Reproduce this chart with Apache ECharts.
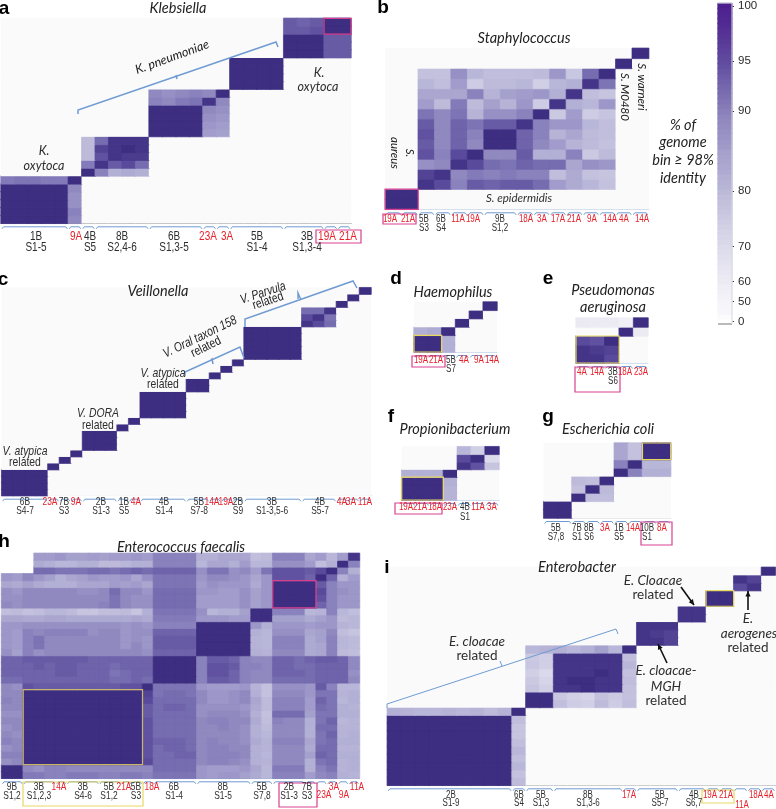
<!DOCTYPE html>
<html><head><meta charset="utf-8">
<style>html,body{margin:0;padding:0;background:#fff}#c{width:776px;height:809px;filter:blur(0.4px)}</style>
<script src="https://cdn.jsdelivr.net/npm/echarts@6/dist/echarts.min.js"></script>
</head><body><div id="c"></div>
<script>
// ---------- DATA: each row is [first column, values...], bottom row first; cells not listed read as 0 ----------
const aRows=[[0,99,99,99,99,99,87],[0,99,99,99,99,99,88],[0,99,99,99,99,99,86],[0,99,99,99,99,99,86],[0,99,99,99,99,99,87],
[0,89,90,90,89,89,99],[6,99,88,80,81,80],[6,89,98,93,95,91],[6,77,94,98,97,97],[6,77,96,98,99,98],[6,77,91,98,98,98],
[11,99,99,99,99,84,83],[11,99,99,99,99,85,84],[11,99,99,99,99,86,85],[11,99,99,99,99,87,86],
[11,88,87,89,90,98,87],[11,87,86,87,88,87,99],
[17,99,99,99,99],[17,99,99,99,99],[17,99,99,99,99],[17,99,99,99,99],
[21,99,99,99,93,93],[21,99,99,99,93,93],[21,99,99,99,93,93],[21,93,93,94,99,99],[21,93,92,93,99,99]];
const aSizes=[5,1,1,4,4,1,1,4,3,1,1];
const aNames=['1B','9A','4B','8B','6B','23A','3A','5B','3B','19A','21A'];
const aSubs=['S1-5','','S5','S2,4-6','S1,3-5','','','S1-4','S1,3-4','',''];

const bRows=[[0,99,99],[0,99,99],
[2,98,95,88,93,92,93,93,91,84,81,78,75],
[2,96,98,87,89,88,89,88,88,76,81,75,74],
[2,86,87,98,95,91,90,92,91,91,82,86,85],
[2,94,88,95,99,87,87,93,80,80,88,72,77],
[2,93,87,92,87,99,99,92,87,84,79,77,75],
[2,94,87,92,88,99,99,92,88,79,82,77,76],
[2,93,87,92,90,93,93,98,88,85,85,78,76],
[2,90,87,90,79,86,86,88,99,72,84,71,74],
[2,84,77,89,77,83,79,85,71,98,80,78,85],
[2,82,82,82,88,79,83,84,85,80,98,76,74],
[2,78,76,84,71,77,77,78,70,78,80,98,90],
[2,75,75,86,78,76,76,76,77,85,73,91,99],
[14,99],[15,99]];
const bSizes=[1,1,1,1,1,1,2,1,1,1,1,1,1,1,1];
const bNames=['19A','21A','5B','6B','11A','19A','9B','18A','3A','17A','21A','9A','14A','4A','14A'];
const bSubs=['','','S3','S4','','','S1,2','','','','','','','',''];

const cRows=[[0,99,99,99,99],[0,99,99,99,99],[0,99,99,99,99],[0,99,99,99,99],[4,99],[5,99],[6,99],
[7,99,99,99],[7,99,99,99],[7,99,99,99],[10,99],[11,99],
[12,99,99,99,99],[12,99,99,99,99],[12,99,99,99,99],[12,99,99,99,99],[16,99,99],[16,99,99],[18,99],[19,99],[20,99],
[21,99,99,99,99,99],[21,99,99,99,99,99],[21,99,99,99,99,99],[21,99,99,99,99,99],[21,99,99,99,99,99],
[26,98,95,91],[26,95,98,90],[26,91,91,98],[29,99],[30,99],[31,99]];
const cSizes=[4,1,1,1,3,1,1,4,2,1,1,1,5,3,1,1,1];
const cNames=['6B','23A','7B','9A','2B','1B','4A','4B','5B','14A','19A','2B','3B','4B','4A','3A','11A'];
const cSubs=['S4-7','','S3','','S1-3','S5','','S1-4','S7-8','','','S9','S1-3,5-6','S5-7','','',''];

const dRows=[[0,99,99,80],[0,99,99,80],[0,80,81,99],[3,99],[4,99],[5,99]];
const dSizes=[1,1,1,1,1,1];
const dNames=['19A','21A','5B','4A','9A','14A'];
const dSubs=['','','S7','','',''];

const eRows=[[0,98,98,95],[0,98,97,96],[0,95,94,99],[3,99,55],[0,56,55,55,52,99]];
const eSizes=[1,1,1,1,1];
const eNames=['4A','14A','3B','18A','23A'];
const eSubs=['','','S6','',''];

const fRows=[[0,99,99,99,79],[0,99,99,99,79],[0,99,99,99,80],[0,80,80,80,99],[4,98,94,74],[4,95,99,65],[4,78,70,99]];
const fSizes=[1,1,1,1,1,1,1];
const fNames=['19A','21A','18A','23A','4B','11A','3A'];
const fSubs=['','','','','S1','',''];

const gRows=[[0,99,99],[0,99,99],[2,99,76,76],[2,75,99,77],[2,77,76,99],[5,99,88,80,80],[5,88,99,78,78],[5,82,75,99,99],[5,82,75,99,99]];
const gSizes=[2,1,1,1,1,1,1,1];
const gNames=['5B','7B','8B','3A','1B','14A','10B','8A'];
const gSubs=['S7,8','S1','S6','','S5','','S1',''];

const hRows=[
[0,99,99,89,89,88,88,89,89,89,88,88,89,89,88,90,90,90,90,85,84,85,85,83,81,78,88,88,88,84,87,88,80,79],
[0,99,99,87,86,88,88,87,87,87,87,87,87,87,87,91,91,91,91,85,84,84,84,85,82,78,89,89,89,80,88,90,79,80],
[0,86,87,99,99,99,99,99,99,99,99,99,99,99,95,91,91,91,91,87,88,88,87,86,80,79,87,87,87,80,90,91,79,80],
[0,88,88,99,99,99,99,99,99,99,99,99,99,99,94,91,91,92,92,87,88,88,88,87,80,78,87,87,87,83,92,91,80,80],
[0,86,87,99,99,99,99,99,99,99,99,99,99,99,94,91,92,92,91,87,88,88,87,87,80,79,87,87,87,81,91,91,79,79],
[0,88,87,99,99,99,99,99,99,99,99,99,99,99,94,92,92,92,91,87,88,87,87,86,81,79,88,88,88,82,90,91,80,80],
[0,87,86,99,99,99,99,99,99,99,99,99,99,99,94,91,91,91,91,87,87,87,87,86,80,78,87,87,87,80,90,92,79,80],
[0,86,87,99,99,99,99,99,99,99,99,99,99,99,94,91,91,91,91,87,87,88,87,86,80,77,87,87,87,80,91,91,79,79],
[0,87,87,99,99,99,99,99,99,99,99,99,99,99,94,91,91,91,91,87,88,88,87,87,81,76,88,87,87,80,90,92,78,79],
[0,86,86,99,99,99,99,99,99,99,99,99,99,99,93,91,91,91,91,86,87,87,87,86,80,75,91,91,91,83,90,90,80,80],
[0,87,87,99,99,99,99,99,99,99,99,99,99,99,93,91,92,92,91,86,86,86,86,85,81,77,88,88,88,84,91,90,80,79],
[0,88,87,99,99,99,99,99,99,99,99,99,99,99,95,91,91,91,91,87,85,85,86,87,82,77,88,88,88,84,92,90,78,80],
[0,87,87,99,99,99,99,99,99,99,99,99,99,99,96,90,91,91,90,87,85,85,86,87,80,75,87,87,87,85,90,90,79,80],
[0,87,86,94,93,93,93,93,93,93,93,93,94,94,99,90,90,90,90,85,84,84,84,85,79,75,86,86,86,85,93,88,78,78],
[0,91,91,92,92,92,92,92,92,92,92,91,91,92,91,99,99,99,99,88,93,93,92,88,87,87,91,91,91,91,92,92,92,87],
[0,92,92,92,92,92,93,93,92,92,92,90,91,92,92,99,99,99,99,88,94,94,92,88,87,87,92,92,92,91,92,92,92,86],
[0,92,92,92,93,92,93,93,92,92,92,91,92,92,92,99,99,99,99,88,94,94,93,88,88,87,92,92,91,91,92,92,92,87],
[0,92,92,93,93,93,93,93,93,92,92,92,92,92,92,99,99,99,99,88,93,93,92,88,87,87,92,92,91,92,93,93,92,87],
[0,86,83,88,86,87,87,87,87,87,87,87,87,87,86,92,92,92,92,99,99,99,99,99,80,79,87,87,87,81,82,88,77,76],
[0,85,84,88,90,87,87,87,87,87,87,87,85,87,85,93,93,93,93,99,99,99,99,99,79,78,88,88,88,81,82,88,78,77],
[0,85,84,88,90,87,87,87,87,87,87,87,85,86,85,93,93,93,93,99,99,99,99,99,79,78,88,88,88,81,83,88,78,77],
[0,85,84,88,87,88,88,88,88,86,87,87,85,86,86,92,92,92,92,99,99,99,99,99,80,78,86,86,86,82,83,87,76,74],
[0,85,85,86,86,86,86,86,86,86,86,86,85,86,85,88,88,88,88,99,99,99,99,99,85,80,85,85,85,84,85,85,79,78],
[0,82,82,81,81,82,82,81,81,81,81,81,81,82,81,89,89,89,89,85,85,85,84,84,99,99,83,83,83,81,83,85,77,78],
[0,76,77,75,76,78,78,77,74,74,76,76,77,74,80,90,90,90,90,86,78,80,80,83,99,99,88,88,88,78,79,88,78,76],
[0,87,86,87,87,87,87,87,87,87,88,90,87,86,86,91,91,91,91,84,84,84,84,86,83,85,99,99,99,99,92,88,85,85],
[0,86,86,87,87,87,87,87,87,87,87,90,87,86,86,91,91,91,91,84,84,84,84,86,83,85,99,99,99,99,94,88,85,85],
[0,86,85,87,87,87,87,87,86,86,87,91,87,87,85,91,91,91,91,85,85,84,84,86,83,85,99,99,99,99,95,88,86,85],
[0,82,81,83,81,80,80,80,82,82,82,84,83,84,82,90,90,90,90,84,86,85,85,85,81,85,99,99,99,99,93,88,85,85],
[0,85,84,87,85,83,80,82,83,85,84,84,85,82,86,90,90,90,90,85,87,87,86,85,82,85,94,94,94,92,99,92,80,84],
[0,null,null,null,91,91,90,90,90,91,91,90,91,92,91,92,92,92,92,86,90,90,86,87,84,90,94,94,94,93,95,99,88,80],
[0,null,null,null,81,80,78,78,80,80,77,77,78,80,80,88,88,88,88,78,82,82,80,84,78,78,86,86,86,84,76,80,99,88],
[0,null,null,null,84,84,85,83,83,84,83,84,84,85,84,88,88,88,88,80,80,82,82,82,76,77,88,88,88,82,84,78,84,98]];
const hSizes=[2,3,1,3,2,1,1,1,4,5,2,3,1,1,1,1,1];
const hNames=['9B','3B','14A','3B','5B','21A','5B','18A','6B','8B','5B','2B','7B','23A','3A','9A','11A'];
const hSubs=['S1,2','S1,2,3','','S4-6','S1,2','','S3','','S1-4','S1-5','S7,8','S1-3','S3','','','',''];

const iRows=[[0,99,99,99,99,99,99,99,99,99,77],[0,99,99,99,99,99,99,99,99,99,75],[0,99,99,99,99,99,99,99,99,99,78],
[0,99,99,99,99,99,99,99,99,99,76],[0,99,99,99,99,99,99,99,99,99,78],[0,99,99,99,99,99,99,99,99,99,76],
[0,99,99,99,99,99,99,99,99,99,74],[0,99,99,99,99,99,99,99,99,99,74],[0,99,99,99,99,99,99,99,99,99,76],
[0,80,79,78,78,79,78,79,77,79,99],
[10,99,99,76,71,70,77,71,76],[10,99,99,73,70,68,75,72,75],
[10,74,70,98,98,99,98,98,75],[10,72,68,98,99,99,98,98,76],[10,70,66,98,98,98,99,98,75],[10,73,70,98,98,98,98,98,78],[10,72,70,98,98,98,98,98,76],
[10,78,79,80,78,80,83,78,99],
[18,98,98,96],[18,98,97,96],[18,98,98,98],
[21,98,98],[21,98,98],[23,99,99],[23,99,99],[25,95,98],[25,98,96],[27,99]];
const iSizes=[9,1,2,5,1,3,2,1,1,1,1,1];
const iNames=['2B','6B','5B','8B','17A','5B','4B','19A','21A','11A','18A','4A'];
const iSubs=['S1-9','S4','S1,3','S1,3-6','','S5-7','S6,7','','','','',''];

const barLevels=[0,15,30,40,50,52,55,57,60,61,63,64,66,67,69,70,71,72,73,74,75,76,77,78,78.5,79,80,81,81.5,82,83,83.5,84,84.5,85,86,86.5,87,87.5,88,88.5,89,90,90.5,91,91.5,92,92.5,93,93.5,94,94.5,95,95.5,96,96.5,97,97.5,98,98.5,99,99.25,99.5,100];
const barTicks=[0,50,60,70,80,90,95,100];

// ---------- COLOUR SCALES (stops at 0,5,...,100) ----------
const cellColors=['#fafafb','#fafafb','#fafafb','#fafafb','#fafafb','#f9f9fb','#f8f8fb','#f7f7fa','#f6f6fa','#f5f5f9','#f4f3f8','#ecebf4','#e6e5f1','#dcdbec','#d0cfe5','#c3c1de','#b3b0d5','#9c97c8','#7d74b5','#5a4a9c','#37277a'];
const barColors=['#ffffff','#fdfdfe','#fcfcfd','#fbfbfd','#f9f9fc','#f8f8fb','#f7f7fb','#f7f6fa','#f6f6fa','#f6f5fa','#f5f4f9','#f1f0f7','#ecebf4','#e5e4f0','#dcdbeb','#cfcde4','#bcbad9','#a5a0cc','#8a80ba','#604b9f','#4d1f8e'];

// ---------- LAYOUT ----------
const ARIAL='"Liberation Sans",sans-serif';
const ITAL='italic 14.5px Lato,"Open Sans",sans-serif';
const PINK='#d9408f',YEL='#e8d862',TAN='#c9b66c',BLUE='#6f9bd2',RED='#e8202a',INK='#2e2e2e';
const panels={
 a:{r:{x:1,y:18.3,w:350,h:205},n:26,rows:aRows,axis:'#888',sizes:aSizes,names:aNames,subs:aSubs,xs:[36,76,90,122,174,208,227,257,307,327,348],y1:237,y2:248,fs:12.5},
 b:{r:{x:385.3,y:48.3,w:263.4,h:161},n:16,rows:bRows,axis:'#a9c0df',sizes:bSizes,names:bNames,subs:bSubs,xs:[390,408,424,441,458,473,500,526,542,558,574,592,610,624,642],y1:219,y2:228,fs:10},
 c:{r:{x:1.7,y:287.7,w:369.3,h:208},n:32,rows:cRows,axis:'#9db8dc',sizes:cSizes,names:cNames,subs:cSubs,xs:[25,50,64,76,101,124,136,164,199,212,226,238,272,320,342,351,365],y1:502,y2:511,fs:10.5},
 d:{r:{x:414,y:302,w:83,h:50},n:6,rows:dRows,axis:'#c5d5ea',sizes:dSizes,names:dNames,subs:dSubs,xs:[421,436,451,464,479,492],y1:360,y2:369,fs:10},
 e:{r:{x:576,y:318,w:72,h:45},n:5,rows:eRows,axis:'#c5d5ea',sizes:eSizes,names:eNames,subs:eSubs,xs:[582,597,613,625,641],y1:372,y2:381,fs:10},
 f:{r:{x:401.7,y:446.7,w:97.3,h:53.3},n:7,rows:fRows,axis:'#c5d5ea',sizes:fSizes,names:fNames,subs:fSubs,xs:[406,420,435,450,465,478,492],y1:507,y2:517,fs:10},
 g:{r:{x:543.7,y:443,w:127,h:75},n:9,rows:gRows,axis:'#e3e3e8',sizes:gSizes,names:gNames,subs:gSubs,xs:[556,577,589,605,619,633,647,662],y1:528,y2:537,fs:10},
 h:{r:{x:1.5,y:553.3,w:358,h:225},n:33,rows:hRows,axis:'#7f9fd0',sizes:hSizes,names:hNames,subs:hSubs,xs:[12,39,59,83,109,124,136,152,174,223,262,289,307,324,334,344,357],y1:787,y2:796,fs:10.5,over:{13:795,15:795}},
 i:{r:{x:387.3,y:567.3,w:388,h:218},n:28,rows:iRows,axis:'#999',sizes:iSizes,names:iNames,subs:iSubs,xs:[451,519,541,588,629,660,694,710,726,742,756,769],y1:795,y2:803,fs:10,over:{9:805}}
};

// ---------- BUILD ----------
const grid=[],xAxis=[],yAxis=[],series=[],heatIdx=[];
const graphics=[];
function T(s,x,y,font,fill,rot,sx){graphics.push({type:'text',x,y,rotation:rot||0,scaleX:sx||1,silent:true,z:50,
  style:{text:s,font,fill:fill||INK,align:'center',verticalAlign:'middle',textAlign:'center',textVerticalAlign:'middle'}});}
function L(pts,color,w){graphics.push({type:'polyline',silent:true,z:45,shape:{points:pts},style:{stroke:color||BLUE,lineWidth:w||1.5,fill:null}});}
function Box(x,y,w,h,color,lw){graphics.push({type:'rect',silent:true,z:46,shape:{x,y,width:w,height:h},style:{fill:null,stroke:color,lineWidth:lw||1.2}});}
function cellBox(k,c0,c1,r0,r1,color){const p=panels[k],r=p.r,cw=r.w/p.n,rh=r.h/p.n;
  Box(r.x+c0*cw,r.y+r.h-(r1+1)*rh,(c1-c0+1)*cw,(r1-r0+1)*rh,color);}
function arrow(x1,y1,x2,y2){L([[x1,y1],[x2,y2]],'#111',1.6);const a=Math.atan2(y2-y1,x2-x1),s=6;
  graphics.push({type:'polygon',silent:true,z:46,shape:{points:[[x2,y2],[x2-s*Math.cos(a-0.45),y2-s*Math.sin(a-0.45)],[x2-s*Math.cos(a+0.45),y2-s*Math.sin(a+0.45)]]},style:{fill:'#111'}});}

Object.keys(panels).forEach((k,gi)=>{
  const p=panels[k],r=p.r,idx=[];for(let i=0;i<p.n;i++)idx.push(i);
  grid.push({left:r.x,top:r.y,width:r.w,height:r.h,containLabel:false});
  xAxis.push({type:'category',gridIndex:gi,data:idx,boundaryGap:true,axisLine:{show:true,onZero:false,lineStyle:{color:p.axis,width:1.2}},axisTick:{show:false},axisLabel:{show:false},splitLine:{show:false}});
  yAxis.push({type:'category',gridIndex:gi,data:idx,boundaryGap:true,axisLine:{show:false},axisTick:{show:false},axisLabel:{show:false},splitLine:{show:false}});
  const data=[],filled={};
  p.rows.forEach((row,y)=>{row.slice(1).forEach((v,j)=>{filled[y+'_'+(row[0]+j)]=v;});});
  for(let y=0;y<p.n;y++)for(let x=0;x<p.n;x++){
    const key=y+'_'+x,v=(key in filled)?filled[key]:0;
    if(v===null)continue;
    // a hairline outline in the cell's own colour closes the seams between neighbouring cells
    if(v>0)data.push({value:[x,y,v],itemStyle:{borderWidth:0.7,borderColor:echarts.color.lerp(v/100,cellColors)}});
    else data.push([x,y,v]);
  }
  heatIdx.push(series.length);
  series.push({type:'heatmap',name:k,xAxisIndex:gi,yAxisIndex:gi,data,silent:true,emphasis:{disabled:true},progressive:0,animation:false});

  // group brackets and labels
  const cw=r.w/p.n,by=r.y+r.h+3.5;let c=0;
  p.sizes.forEach((s,i)=>{
    const x1=r.x+c*cw+1,x2=r.x+(c+s)*cw-1;
    L([[x1,by+2],[x1+1.5,by],[x2-1.5,by],[x2,by+2]],BLUE,1);
    c+=s;
    const red=!p.subs[i]&&/A$/.test(p.names[i]);
    const y=(p.over&&p.over[i])||p.y1;
    T(p.names[i],p.xs[i],y,p.fs+'px '+ARIAL,red?RED:INK,0,0.8);
    if(p.subs[i])T(p.subs[i],p.xs[i],p.y2,p.fs+'px '+ARIAL,INK,0,0.8);
  });
});

// colour bar: its own heatmap on a category axis with the tick labels of the scale
const gi=grid.length,barIdx=series.length;
grid.push({left:718,top:3,width:14,height:321,containLabel:false});
xAxis.push({type:'category',gridIndex:gi,data:[0],show:false});
const isTick=(i,v)=>barTicks.indexOf(+v)>=0;
yAxis.push({type:'category',gridIndex:gi,data:barLevels.map(String),position:'right',
  axisLine:{show:false},axisTick:{show:true,interval:(i)=>barTicks.indexOf(barLevels[i])>=0,alignWithLabel:true,length:2,lineStyle:{color:'#333'}},
  axisLabel:{show:true,interval:isTick,margin:6,color:'#2a2a2a',fontSize:11.5,fontFamily:ARIAL},splitLine:{show:false}});
series.push({type:'heatmap',name:'scale',xAxisIndex:gi,yAxisIndex:gi,data:barLevels.map((v,i)=>({value:[0,i,v],itemStyle:{borderWidth:0.7,borderColor:echarts.color.lerp(v/100,barColors)}})),silent:true,emphasis:{disabled:true},progressive:0});
L([[718,324],[732,324]],'#777',1);
L([[718,3],[732,3],[732,324]],'#d8d8e0',1);

// titles and panel letters
const BOLD='bold 19px '+ARIAL;
[['a',4,9],['b',383,8],['c',3,280],['d',396,279],['e',548,279],['f',391,417],['g',548,417],['h',4,542],['i',387,568]].forEach(a=>T(a[0],a[1],a[2],BOLD,'#000'));
[['Klebsiella',178,8],['Staphylococcus',524,38],['Veillonella',158,291],['Haemophilus',453,292],['Pseudomonas',613,290],['aeruginosa',613,307],
 ['Propionibacterium',455,429],['Escherichia coli',608,429],['Enterococcus faecalis',181,547],['Enterobacter',577,567]].forEach(a=>T(a[0],a[1],a[2],ITAL,'#222'));

// annotations
const IT2='italic 12.5px Lato,"Open Sans",sans-serif';
const IT3='italic 11.5px Lato,"Open Sans",sans-serif';
const ITN='italic 13px '+ARIAL;
const RN='13px '+ARIAL;
const IT14='italic 13.5px Lato,"Open Sans",sans-serif';
const R14='13.5px Lato,"Open Sans",sans-serif';
const deg=Math.PI/180;
// a
T('K. pneumoniae',172,57,IT2,'#222',20*deg);
L([[78,114],[78,110],[276,42],[278,47]]);L([[176,75],[177,79]]);
T('K.',44,151,IT2);T('oxytoca',44,166,IT2);T('K.',319,73,IT2);T('oxytoca',318,87,IT2);
cellBox('a',24,25,24,25,PINK);Box(316,230,45,13,PINK);
// b
cellBox('b',0,1,0,1,PINK);Box(383,214,33,10,PINK);
const cw90=-90*deg;
T('aureus',395,153,IT3,'#222',cw90);T('S.',410,153,IT3,'#222',cw90);
T('S. epidermidis',519,198,IT3);T('S. warneri',642,87,IT3,'#222',cw90);T('S. M0480',625,97,IT3,'#222',cw90);
['% of','genome','bin ≥ 98%','identity'].forEach((s,i)=>T(s,683,[125,142,160,178][i],ITAL,'#222'));
// c
T('V. atypica',25,451,ITN,INK,0,0.8);T('related',25,462,RN,INK,0,0.8);T('V. DORA',98,413,ITN,INK,0,0.8);T('related',98,425,RN,INK,0,0.8);T('V. atypica',163,373,ITN,INK,0,0.8);T('related',163,384,RN,INK,0,0.8);
T('V. Oral taxon 158',200,337,ITN,'#222',26*deg,0.8);T('related',206,347,RN,'#222',26*deg,0.8);
T('V. Parvula',263,293,ITN,'#222',18*deg,0.8);T('related',268,301,RN,'#222',18*deg,0.8);
L([[185,376],[185,372],[240,347],[244,358]]);L([[211,360],[212,359],[213,364]]);
L([[245,327],[245,319],[353,281],[357,288]]);L([[298,299],[298,293],[301,300]]);
// boxes d-i
cellBox('d',0,1,0,1,YEL);Box(412,356,33,11,PINK);
cellBox('e',0,2,0,2,YEL);Box(575,367,45,25,PINK);
cellBox('f',0,2,0,2,YEL);Box(395,503,47,11,PINK);
cellBox('g',7,8,7,8,YEL);Box(641,522,31,23,PINK);
cellBox('h',2,12,2,12,TAN);cellBox('h',25,28,25,28,PINK);Box(23,782,120,24,YEL);Box(279,783,38,24,PINK);
cellBox('i',23,24,23,24,YEL);Box(702,790,32,13,YEL);
// i annotations
T('E. cloacae',477,642,IT14);T('related',477,656,R14);
T('E. Cloacae',653,581,IT14);T('related',653,595,R14);
T('E.',748,619,IT14);T('aerogenes',749,634,IT14);T('related',748,648,R14);
T('E. cloacae-',666,671,IT14);T('MGH',666,687,IT14);T('related',666,701,R14);
L([[387,708],[387,704],[616,629],[618,634]],BLUE,1);L([[500,661],[502,666]],BLUE,1);
arrow(681,587,694,605);arrow(748,610,748,591);arrow(667,663,658,644);

const chart=echarts.init(document.getElementById('c'),null,{renderer:'canvas'});
chart.setOption({animation:false,backgroundColor:'#fff',grid,xAxis,yAxis,series,
  visualMap:[{show:false,type:'continuous',min:0,max:100,seriesIndex:heatIdx,inRange:{color:cellColors}},
             {show:false,type:'continuous',min:0,max:100,seriesIndex:[barIdx],inRange:{color:barColors}}],
  graphic:{elements:graphics}});
</script></body></html>
